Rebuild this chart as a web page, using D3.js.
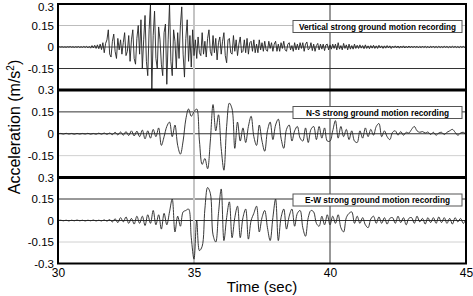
<!DOCTYPE html>
<html>
<head>
<meta charset="utf-8">
<script src="https://cdn.jsdelivr.net/npm/d3@7"></script>
<style>
  body { margin: 0; background: #fff; }
  svg text { font-family: Arial, "Liberation Sans", sans-serif; }
</style>
</head>
<body>
<div id="chart"></div>
<script>
// sampled records starting at 30 s (m/s^2)
let timeStart = 30;
let verticalStep = 0.05;
let horizontalStep = 0.1;

let verticalAcc = [
  0, 0.002, -0.001, 0.002, -0.002, 0.001, -0.002, 0.002, -0.001, 0.003, -0.002, 0.002, -0.003, 0.002, -0.002, 0.003, -0.003, 0.002, -0.003, 0.004,
  -0.003, 0.005, -0.006, 0.004, -0.008, 0.01, -0.007, 0.012, -0.01, 0.015, -0.012, 0.02, -0.018, 0.03, -0.04, 0.025, 0.05, 0.12, -0.05, -0.07,
  0.04, 0.09, -0.03, -0.08, 0.06, -0.02, 0.05, -0.05, 0.03, 0.1, -0.06, -0.03, 0.08, -0.1, 0.05, 0.12, -0.08, -0.12, 0.06, 0.15,
  -0.05, 0.19, -0.15, 0.05, 0.22, -0.1, -0.2, 0.12, 0.3, -0.3, 0.08, 0.25, -0.08, -0.15, 0.14, 0.05, -0.12, -0.2, 0.1, 0.16,
  -0.26, 0.05, 0.3, -0.1, -0.2, 0.12, 0.04, -0.15, 0.1, -0.08, 0.15, 0.28, -0.05, -0.21, 0.06, 0.19, -0.1, 0.08, -0.14, 0.12,
  -0.06, 0.05, -0.08, 0.07, -0.04, -0.06, 0.1, -0.05, 0.04, -0.07, 0.06, 0.12, -0.03, -0.06, 0.08, -0.04, 0.06, -0.09, 0.03, 0.07,
  -0.05, 0.04, 0.1, -0.06, -0.11, 0.05, 0.06, -0.04, -0.05, 0.08, -0.03, 0.05, -0.06, 0.02, 0.07, -0.04, -0.03, 0.05, -0.04, 0.06,
  -0.05, 0.03, 0.04, -0.03, 0.05, -0.04, 0.02, -0.04, 0.05, -0.02, 0.03, -0.03, 0.04, -0.02, -0.03, 0.04, -0.01, 0.03, -0.03, 0.02,
  0.04, -0.03, 0.02, -0.03, 0.03, -0.01, 0.04, -0.02, -0.03, 0.02, 0.03, -0.02, 0.01, -0.03, 0.03, -0.02, 0.02, -0.02, 0.03, -0.01,
  0.03, -0.03, 0.02, 0.035, -0.02, -0.01, 0.03, -0.025, 0.02, -0.03, 0.01, 0.025, -0.02, 0.02, -0.015, 0.02, -0.025, 0.015, 0.02, -0.02,
  0.015, -0.015, 0.02, -0.01, 0.02, -0.02, 0.03, -0.015, 0.01, -0.02, 0.025, -0.01, 0.015, -0.02, 0.02, -0.015, 0.01, -0.015, 0.02, -0.01,
  0.012, -0.01, 0.015, -0.008, 0.01, -0.012, 0.015, -0.01, 0.008, -0.012, 0.01, -0.008, 0.012, -0.01, 0.008, -0.01, 0.012, -0.006, 0.008, -0.01,
  0.008, -0.008, 0.01, -0.006, 0.008, -0.01, 0.006, -0.005, 0.008, -0.006, 0.007, -0.008, 0.006, -0.005, 0.008, -0.007, 0.005, -0.006, 0.007, -0.005,
  0.006, -0.005, 0.006, -0.004, 0.005, -0.006, 0.004, -0.005, 0.006, -0.004, 0.005, -0.005, 0.004, -0.006, 0.005, -0.004, 0.006, -0.005, 0.004, -0.005,
  0.005, -0.004, 0.003, -0.004, 0.005, -0.003, 0.004, -0.005, 0.003, -0.004, 0.005, -0.003, 0.004, -0.004, 0.003, -0.005, 0.004, -0.003, 0.004, -0.003, 0.002
];

let nsAcc = [
  0, 0.002, -0.002, 0.003, -0.002, 0.002, -0.003, 0.002, -0.002, 0.002,
  -0.002, 0.003, -0.003, 0.002, -0.003, 0.004, -0.003, 0.005, -0.004, 0.005,
  -0.006, 0.01, -0.008, 0.012, -0.01, 0.015, -0.012, 0.02, -0.015, 0.018,
  -0.02, 0.025, -0.035, 0.02, -0.03, 0.03, -0.02, 0.04, -0.08, -0.02,
  0.05, 0.08, -0.02, 0.06, -0.08, -0.14, -0.05, 0.1, 0.17, 0.12,
  0.15, 0.17, -0.05, -0.21, -0.17, -0.24, -0.05, 0.2, 0.02, 0.13,
  -0.1, -0.25, 0.05, 0.21, 0.17, -0.1, 0.08, -0.05, 0.04, -0.06,
  0.05, 0.12, -0.02, -0.08, 0.06, -0.05, -0.12, 0.02, 0.08, -0.04,
  0.06, 0.1, -0.03, -0.1, 0.03, 0.06, -0.05, 0.02, 0.05, -0.03,
  -0.05, 0.04, -0.06, 0.03, 0.05, -0.04, 0.05, -0.03, 0.04, -0.05,
  -0.05, 0.02, 0.09, -0.03, 0.05, -0.02, 0.03, -0.04, 0.02, -0.05,
  -0.06, 0.02, -0.03, 0.04, -0.02, 0.03, -0.01, 0.05, 0.07, -0.02,
  0.02, -0.02, -0.04, 0.01, 0.02, -0.01, 0.015, -0.01, 0.01, 0.005,
  0.03, 0.05, 0.02, 0.01, 0.015, 0.005, 0.012, -0.005, 0.01, -0.01,
  0.005, 0.01, -0.005, 0.01, 0.02, 0.03, 0.01, -0.01, 0.005, 0.01, -0.005
];

let ewAcc = [
  0, 0.002, -0.002, 0.002, -0.003, 0.002, -0.002, 0.003, -0.002, 0.002,
  -0.003, 0.002, -0.002, 0.003, -0.003, 0.002, -0.003, 0.004, -0.004, 0.006,
  -0.01, 0.012, -0.015, 0.02, -0.01, 0.025, -0.02, 0.015, -0.025, 0.03,
  -0.02, 0.03, -0.035, 0.04, -0.02, 0.07, -0.03, 0.04, -0.06, 0.05,
  -0.03, 0.06, 0.15, -0.08, 0.03, -0.04, 0.06, 0.07, 0.08, -0.12,
  -0.27, 0.0, -0.21, -0.18, 0.08, 0.23, 0.19, -0.1, -0.15, 0.05,
  0.22, -0.14, 0.02, 0.13, -0.12, 0.02, 0.1, -0.12, 0.02, 0.08,
  -0.13, 0.0, 0.05, 0.1, -0.08, 0.02, 0.07, -0.05, -0.14, 0.02,
  0.15, -0.14, 0.02, 0.08, -0.06, 0.03, 0.08, -0.04, 0.05, 0.07,
  -0.05, -0.11, 0.02, 0.07, 0.06, -0.02, -0.04, 0.03, -0.03, 0.04,
  -0.03, 0.03, -0.02, 0.04, -0.05, -0.08, 0.02, 0.05, 0.06, -0.02,
  0.03, -0.02, 0.02, -0.03, -0.05, 0.01, 0.03, -0.02, 0.025, -0.02,
  0.02, -0.025, 0.015, 0.02, -0.02, 0.03, -0.015, 0.02, -0.03, 0.015,
  0.02, -0.02, 0.03, -0.01, 0.015, -0.025, 0.02, -0.015, 0.02, -0.02,
  0.025, -0.015, 0.02, -0.02, 0.015, -0.025, 0.02, -0.01, 0.015, -0.02, 0.01
];

let panelTitles = [
  "Vertical strong ground motion recording",
  "N-S strong ground motion recording",
  "E-W strong ground motion recording"
];
let yTicks = [0.3, 0.15, 0, -0.15];
let xTicks = [30, 35, 40, 45];

// layout
let width = 473;
let height = 296;
let left = 58, right = 466;
let panelEdges = [4, 90, 177.5, 263.5];
let titleWidths = [157, 143, 145];
// gridline colours per panel for 0.15, 0, -0.15
let gridColors = [
  ["#bdbdbd", "#555", "#333"],
  ["#333", "#333", "#d0d0d0"],
  ["#333", "#333", "#d0d0d0"]
];

let svg = d3.select("#chart")
  .append("svg")
  .attr("width", width)
  .attr("height", height);

let x = d3.scaleLinear().domain([30, 45]).range([left, right]);

let records = [
  {values: verticalAcc, step: verticalStep, curve: d3.curveLinear},
  {values: nsAcc, step: horizontalStep, curve: d3.curveCatmullRom.alpha(0.5)},
  {values: ewAcc, step: horizontalStep, curve: d3.curveCatmullRom.alpha(0.5)}
];

records.forEach(function(rec, p) {
  let top = panelEdges[p];
  let bottom = panelEdges[p + 1];
  let y = d3.scaleLinear().domain([-0.3, 0.3]).range([bottom, top]);
  let g = svg.append("g");

  svg.append("clipPath")
    .attr("id", "clip" + p)
    .append("rect")
    .attr("x", left).attr("y", top)
    .attr("width", right - left).attr("height", bottom - top);

  // horizontal grid
  g.selectAll("line.grid")
    .data([0.15, 0, -0.15])
    .join("line")
    .attr("x1", left).attr("x2", right)
    .attr("y1", d => y(d)).attr("y2", d => y(d))
    .attr("stroke", (d, i) => gridColors[p][i])
    .attr("stroke-width", 1);

  // vertical grid at 35 (light) and 40 (dark)
  g.append("line")
    .attr("x1", x(35)).attr("x2", x(35))
    .attr("y1", top).attr("y2", bottom)
    .attr("stroke", "#c4c4c4")
    .attr("stroke-width", 2);
  g.append("line")
    .attr("x1", x(40)).attr("x2", x(40))
    .attr("y1", top).attr("y2", bottom)
    .attr("stroke", "#333")
    .attr("stroke-width", 1);

  let line = d3.line()
    .x((d, i) => x(timeStart + i * rec.step))
    .y(d => y(d))
    .curve(rec.curve);

  g.append("path")
    .datum(rec.values)
    .attr("d", line)
    .attr("clip-path", `url(#clip${p})`)
    .attr("fill", "none")
    .attr("stroke", "#222")
    .attr("stroke-width", 0.9)
    .attr("stroke-linejoin", "round");

  // title box
  let bx = 293, bw = 169, by = top + 16.5, bh = 12;
  g.append("rect")
    .attr("x", bx).attr("y", by)
    .attr("width", bw).attr("height", bh)
    .attr("fill", "#fff")
    .attr("stroke", "#555")
    .attr("stroke-width", 1);
  g.append("text")
    .attr("x", bx + bw / 2)
    .attr("y", by + bh / 2 + 3.2)
    .attr("text-anchor", "middle")
    .attr("font-size", 9)
    .attr("font-weight", "bold")
    .attr("textLength", titleWidths[p])
    .attr("lengthAdjust", "spacingAndGlyphs")
    .text(panelTitles[p]);

  // y labels
  let ticks = p === 2 ? yTicks.concat([-0.3]) : yTicks;
  let yAxis = d3.axisLeft(y)
    .tickValues(ticks)
    .tickSize(0)
    .tickPadding(4)
    .tickFormat(d => String(d));
  svg.append("g")
    .attr("transform", `translate(${left},0)`)
    .call(yAxis)
    .call(a => a.select(".domain").remove())
    .selectAll("text")
    .attr("font-size", 11.5)
    .attr("fill", "#000")
    .attr("dy", d => (p === 0 && d === 0.3) ? "0.55em" : "0.32em");
});

// frame and thick panel separators
svg.append("rect")
  .attr("x", left).attr("y", panelEdges[0])
  .attr("width", right - left).attr("height", panelEdges[3] - panelEdges[0])
  .attr("fill", "none")
  .attr("stroke", "#000")
  .attr("stroke-width", 2);
svg.selectAll("line.sep")
  .data([panelEdges[1], panelEdges[2]])
  .join("line")
  .attr("x1", left).attr("x2", right)
  .attr("y1", d => d).attr("y2", d => d)
  .attr("stroke", "#000")
  .attr("stroke-width", 3);

// x axis labels
let xAxis = d3.axisBottom(x)
  .tickValues(xTicks)
  .tickSize(0)
  .tickPadding(5)
  .tickFormat(d => String(d));
svg.append("g")
  .attr("transform", `translate(0,${panelEdges[3]})`)
  .call(xAxis)
  .call(a => a.select(".domain").remove())
  .selectAll("text")
  .attr("font-size", 12)
  .attr("fill", "#000");

svg.append("text")
  .attr("x", 262)
  .attr("y", 292)
  .attr("text-anchor", "middle")
  .attr("font-size", 15)
  .text("Time (sec)");

let yTitle = svg.append("text")
  .attr("transform", "translate(20,127) rotate(-90)")
  .attr("text-anchor", "middle")
  .attr("font-size", 16);
yTitle.append("tspan").text("Acceleration (m/s");
yTitle.append("tspan").attr("font-size", 10).attr("dy", -6).text("2");
yTitle.append("tspan").attr("dy", 6).text(")");
</script>
</body>
</html>
